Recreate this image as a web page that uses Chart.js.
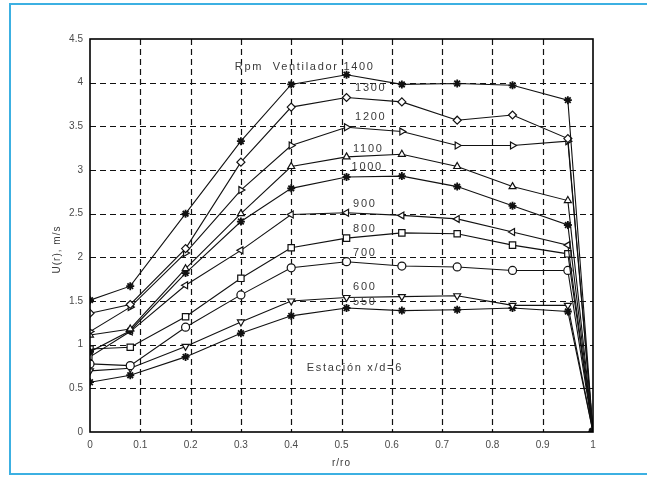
<!DOCTYPE html>
<html>
<head>
<meta charset="utf-8">
<script src="https://cdn.jsdelivr.net/npm/chart.js@4.4.1/dist/chart.umd.min.js"></script>
<style>
  html, body { margin: 0; padding: 0; background: #fff; }
  #wrap { position: relative; width: 647px; height: 490px; overflow: hidden; }
  #frame { position: absolute; left: 9px; top: 3px; width: 660px; height: 472px; border: 2px solid #3cb0e2; box-sizing: border-box; }
  #c { position: absolute; left: 0; top: 0; }
</style>
</head>
<body>
<div id="wrap">
  <div id="frame"></div>
  <canvas id="c" width="647" height="490"></canvas>
</div>
<script>
// ---- data ----
const rValues = [0, 0.08, 0.19, 0.30, 0.40, 0.51, 0.62, 0.73, 0.84, 0.95, 1.0];
const u1400 = [1.51, 1.67, 2.50, 3.33, 3.98, 4.09, 3.98, 3.99, 3.97, 3.80, 0];
const u1300 = [1.36, 1.46, 2.10, 3.09, 3.72, 3.83, 3.78, 3.57, 3.63, 3.36, 0];
const u1200 = [1.15, 1.43, 2.05, 2.77, 3.28, 3.49, 3.44, 3.28, 3.28, 3.33, 0];
const u1100 = [1.11, 1.18, 1.87, 2.50, 3.04, 3.15, 3.18, 3.04, 2.81, 2.65, 0];
const u1000 = [0.92, 1.16, 1.82, 2.41, 2.79, 2.92, 2.93, 2.81, 2.59, 2.37, 0];
const u900  = [0.86, 1.15, 1.68, 2.08, 2.49, 2.51, 2.48, 2.44, 2.29, 2.14, 0];
const u800  = [0.95, 0.97, 1.32, 1.76, 2.11, 2.22, 2.28, 2.27, 2.14, 2.04, 0];
const u700  = [0.78, 0.76, 1.20, 1.57, 1.88, 1.95, 1.90, 1.89, 1.85, 1.85, 0];
const u600  = [0.70, 0.73, 0.98, 1.26, 1.50, 1.54, 1.55, 1.56, 1.45, 1.45, 0];
const u550  = [0.57, 0.65, 0.86, 1.13, 1.33, 1.42, 1.39, 1.40, 1.42, 1.38, 0];

const rpmLabels = ['Rpm  Ventilador 1400', '1300', '1200', '1100', '1000', '900', '800', '700', '600', '550'];
const xTickLabels = ['0', '0.1', '0.2', '0.3', '0.4', '0.5', '0.6', '0.7', '0.8', '0.9', '1'];
const yTickLabels = ['0', '0.5', '1', '1.5', '2', '2.5', '3', '3.5', '4', '4.5'];
const xTitle = 'r/ro';
const yTitle = 'U(r), m/s';
const stationText = 'Estación x/d=6';

// ---- styles / positions ----
const seriesList = [u1400, u1300, u1200, u1100, u1000, u900, u800, u700, u600, u550];
const markerStyles = [
  { style: 'star', rot: 0, fill: '#000' },
  { style: 'rectRot', rot: 0, fill: '#fff' },
  { style: 'triangle', rot: 90, fill: '#fff' },
  { style: 'triangle', rot: 0, fill: '#fff' },
  { style: 'star', rot: 0, fill: '#000' },
  { style: 'triangle', rot: -90, fill: '#fff' },
  { style: 'rect', rot: 0, fill: '#fff' },
  { style: 'circle', rot: 0, fill: '#fff' },
  { style: 'triangle', rot: 180, fill: '#fff' },
  { style: 'star', rot: 0, fill: '#000' }
];
const labelPos = [
  [0.288, 4.18], [0.527, 3.94], [0.527, 3.61], [0.523, 3.24], [0.52, 3.03],
  [0.523, 2.61], [0.523, 2.33], [0.523, 2.05], [0.523, 1.66], [0.523, 1.49]
];
const stationPos = [0.431, 0.73];

const datasets = seriesList.map((arr, i) => ({
  label: rpmLabels[i],
  data: arr.map((v, j) => ({ x: rValues[j], y: v })),
  showLine: true,
  borderColor: '#111',
  borderWidth: 1.1,
  pointStyle: markerStyles[i].style,
  rotation: markerStyles[i].rot,
  pointRadius: markerStyles[i].style === 'rect' ? 4.5 : 4,
  pointBackgroundColor: markerStyles[i].fill,
  pointBorderColor: '#111',
  pointBorderWidth: markerStyles[i].style === 'star' ? 1.8 : 1.2,
  tension: 0
}));

const canvas = document.getElementById('c');
const ctx0 = canvas.getContext('2d');
try { ctx0.letterSpacing = '1px'; } catch (e) {}

const gridPlugin = {
  id: 'gridPlugin',
  beforeDatasetsDraw(chart) {
    const { ctx, chartArea: a, scales } = chart;
    ctx.save();
    ctx.strokeStyle = '#111';
    ctx.lineWidth = 1.2;
    ctx.setLineDash([6, 4]);
    scales.x.ticks.forEach(t => {
      const px = Math.round(scales.x.getPixelForValue(t.value)) + 0.5;
      if (px <= a.left + 1 || px >= a.right - 1) return;
      ctx.beginPath(); ctx.moveTo(px, a.top); ctx.lineTo(px, a.bottom); ctx.stroke();
    });
    scales.y.ticks.forEach(t => {
      const py = Math.round(scales.y.getPixelForValue(t.value)) + 0.5;
      if (py <= a.top + 1 || py >= a.bottom - 1) return;
      ctx.beginPath(); ctx.moveTo(a.left, py); ctx.lineTo(a.right, py); ctx.stroke();
    });
    ctx.restore();
  }
};

const textPlugin = {
  id: 'textPlugin',
  afterDatasetsDraw(chart) {
    const { ctx, chartArea: a, scales } = chart;
    ctx.save();
    ctx.strokeStyle = '#000';
    ctx.lineWidth = 1.6;
    ctx.setLineDash([]);
    ctx.strokeRect(a.left, a.top, a.right - a.left, a.bottom - a.top);
    ctx.fillStyle = '#3a3a3a';
    ctx.font = '11px "Liberation Sans", Arial, sans-serif';
    try { ctx.letterSpacing = '1.7px'; } catch (e) {}
    ctx.textAlign = 'left';
    ctx.textBaseline = 'middle';
    rpmLabels.forEach((t, i) => {
      ctx.fillText(t, scales.x.getPixelForValue(labelPos[i][0]), scales.y.getPixelForValue(labelPos[i][1]));
    });
    ctx.fillText(stationText, scales.x.getPixelForValue(stationPos[0]), scales.y.getPixelForValue(stationPos[1]));
    ctx.font = '10px "Liberation Sans", Arial, sans-serif';
    try { ctx.letterSpacing = '1px'; } catch (e) {}
    ctx.textAlign = 'center';
    ctx.fillText(xTitle, (a.left + a.right) / 2, 463);
    ctx.translate(57, (a.top + a.bottom) / 2 + 14);
    ctx.rotate(-Math.PI / 2);
    ctx.fillText(yTitle, 0, 0);
    ctx.restore();
  }
};

new Chart(canvas, {
  type: 'scatter',
  data: { datasets },
  options: {
    responsive: false,
    animation: false,
    devicePixelRatio: 1,
    layout: { padding: { left: 0, right: 54, top: 39, bottom: 0 } },
    plugins: { legend: { display: false }, tooltip: { enabled: false } },
    scales: {
      x: {
        type: 'linear', min: 0, max: 1,
        afterFit(s) { s.height = 58; },
        ticks: {
          stepSize: 0.1, padding: 7, color: '#4a4a4a',
          font: { family: '"Liberation Sans", Arial, sans-serif', size: 10 },
          maxRotation: 0, autoSkip: false,
          callback: (v, i) => xTickLabels[i]
        },
        grid: { display: false, drawTicks: false },
        border: { display: false }
      },
      y: {
        type: 'linear', min: 0, max: 4.5,
        afterFit(s) { s.width = 90; },
        ticks: {
          stepSize: 0.5, padding: 7, color: '#4a4a4a',
          font: { family: '"Liberation Sans", Arial, sans-serif', size: 10 },
          autoSkip: false,
          callback: (v, i) => yTickLabels[i]
        },
        grid: { display: false, drawTicks: false },
        border: { display: false }
      }
    }
  },
  plugins: [gridPlugin, textPlugin]
});
</script>
</body>
</html>
